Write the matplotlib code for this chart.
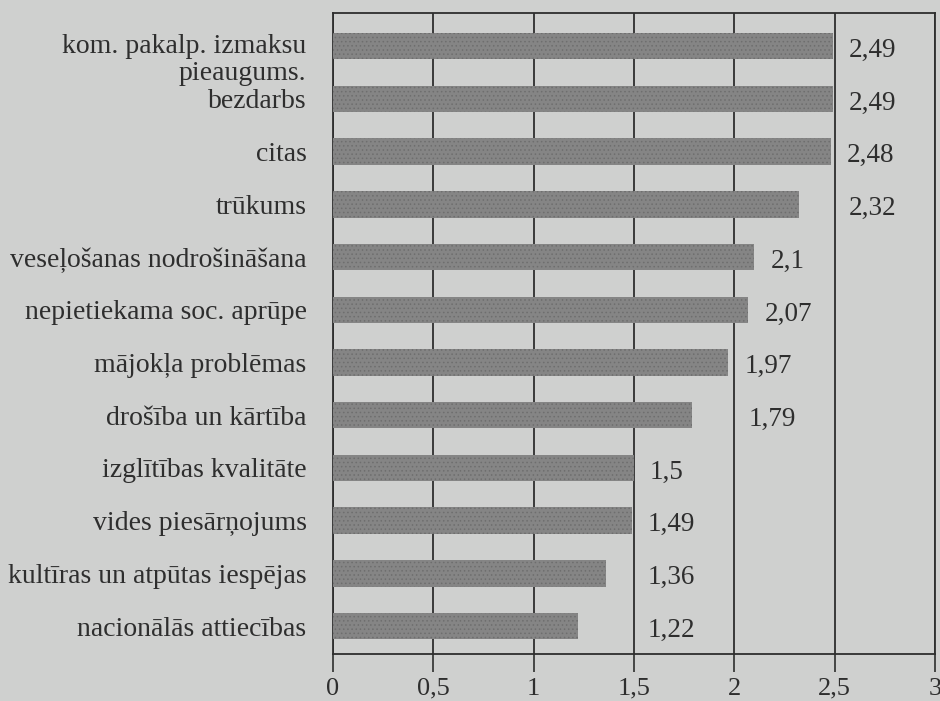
import matplotlib.pyplot as plt
from matplotlib.transforms import ScaledTranslation

# Problem categories, listed top to bottom
categories = [
    "kom. pakalp. izmaksu\npieaugums.",
    "bezdarbs",
    "citas",
    "trūkums",
    "veseļošanas nodrošināšana",
    "nepietiekama soc. aprūpe",
    "mājokļa problēmas",
    "drošība un kārtība",
    "izglītības kvalitāte",
    "vides piesārņojums",
    "kultīras un atpūtas iespējas",
    "nacionālās attiecības",
]
values = [2.49, 2.49, 2.48, 2.32, 2.1, 2.07, 1.97, 1.79, 1.5, 1.49, 1.36, 1.22]
value_labels = ["2,49", "2,49", "2,48", "2,32", "2,1", "2,07", "1,97", "1,79",
                "1,5", "1,49", "1,36", "1,22"]
x_ticks = [0, 0.5, 1, 1.5, 2, 2.5, 3]
x_tick_labels = ["0", "0,5", "1", "1,5", "2", "2,5", "3"]

bg = "#cfd0cf"
ink = "#2e2e2e"
plt.rcParams["font.family"] = ["Liberation Serif", "DejaVu Serif"]
plt.rcParams["hatch.linewidth"] = 0.6

fig = plt.figure(figsize=(9.4, 7.01), dpi=100, facecolor=bg)
ax = fig.add_axes([333 / 940, 47 / 701, 602 / 940, 641 / 701], facecolor=bg)

n = len(categories)
ypos = [n - 1 - i for i in range(n)]

ax.barh(ypos, values, height=0.5, color="#858585", edgecolor="#6e6e6e",
        linewidth=0, hatch="....", zorder=3)

ax.set_xlim(0, 3)
ax.set_ylim(-0.53, n - 1 + 0.63)

# value labels: just right of the bar, but kept clear of the grid lines
fig.canvas.draw()
renderer = fig.canvas.get_renderer()
inv = ax.transData.inverted()
for y, v, lab in zip(ypos, values, value_labels):
    t = ax.text(v + 0.08, y - 0.08, lab, ha="left", va="center",
                fontsize=19.5, color=ink, zorder=4)
    bb = t.get_window_extent(renderer)
    x0 = inv.transform((bb.x0, bb.y0))[0]
    x1 = inv.transform((bb.x1, bb.y0))[0]
    for g in x_ticks:
        if x0 - 0.01 < g < x1 + 0.01:
            t.set_x(g + 0.07)
            break

ax.set_xticks(x_ticks)
ax.set_xticklabels(x_tick_labels)
ax.set_yticks(ypos)
ax.set_yticklabels(categories)

ax.grid(axis="x", color=ink, linewidth=1.3, zorder=1)
ax.grid(axis="y", visible=False)
for s in ax.spines.values():
    s.set_color(ink)
    s.set_linewidth(1.3)

ax.tick_params(axis="x", direction="out", length=13, width=1.2, color=ink,
               labelsize=19, labelcolor=ink, pad=4)
ax.tick_params(axis="y", length=0, pad=19, labelsize=20, labelcolor=ink)

# the two-line first label sits with its first line beside the bar
first = ax.get_yticklabels()[0]
first.set_verticalalignment("top")
first.set_linespacing(1.07)
first.set_transform(first.get_transform()
                    + ScaledTranslation(0, 8.5 / 72, fig.dpi_scale_trans))

fig.savefig("out.png", dpi=100, facecolor=bg)
